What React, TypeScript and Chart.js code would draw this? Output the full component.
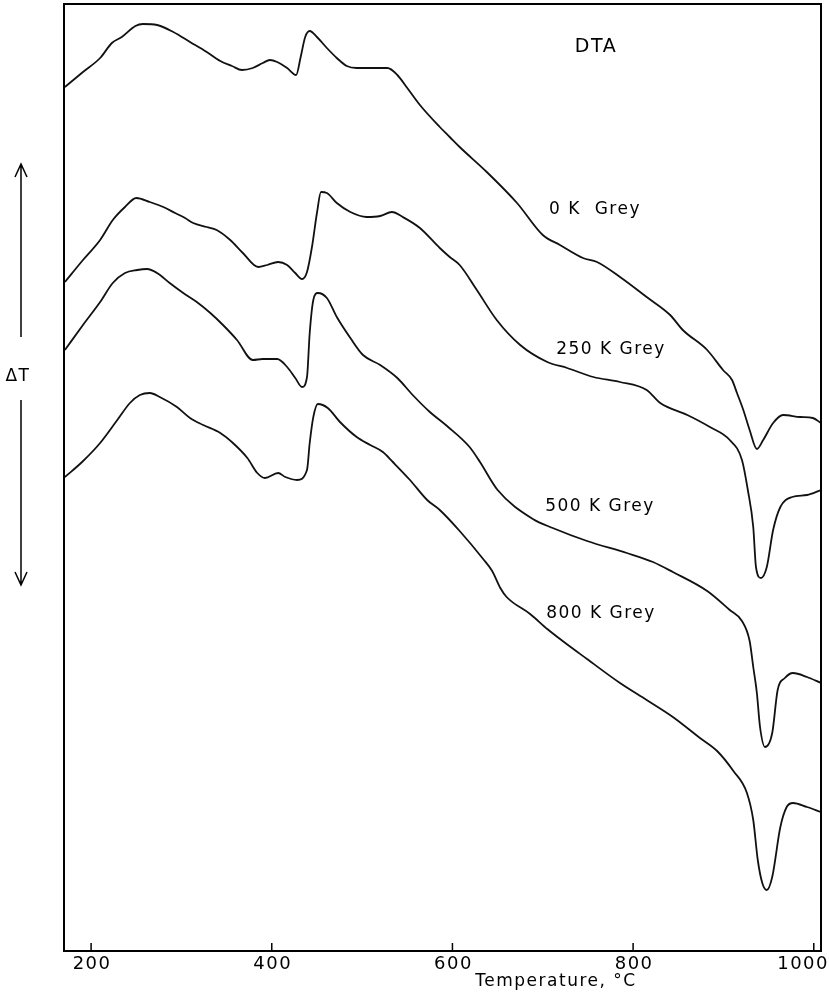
import React, { useEffect, useRef } from "react";
import { Chart, registerables } from "chart.js";

Chart.register(...registerables);

// Temperature axis (°C)
const tempTicks = [200, 400, 600, 800, 1000];

// Curve 1 (top, "0 K Grey")
const temp0K = [171, 191, 210, 223, 234, 249, 257.5, 273, 291, 309.5, 328, 343, 356, 367, 379, 390, 398, 406, 417, 427, 432, 437, 442, 450, 461, 472, 483, 494, 509, 528, 539, 550, 564, 586, 597, 608, 638, 671.5, 700, 719, 744.5, 760, 785.5, 815, 841, 855, 882, 899.5, 909.5, 915, 922, 929, 937, 944, 955, 966, 985, 999, 1008];
const dta0K = [86.4, 87.9, 89.3, 90.8, 91.4, 92.5, 92.7, 92.6, 91.9, 90.9, 89.9, 89.0, 88.5, 88.1, 88.3, 88.8, 89.1, 88.9, 88.3, 87.6, 89.4, 91.4, 92.0, 91.4, 90.3, 89.3, 88.5, 88.3, 88.3, 88.3, 87.6, 86.3, 84.6, 82.4, 81.4, 80.4, 77.9, 74.8, 71.6, 70.6, 69.3, 68.9, 67.4, 65.4, 63.6, 62.1, 60.1, 58.1, 57.1, 55.8, 54.1, 52.1, 50.2, 51.1, 52.8, 53.6, 53.4, 53.3, 52.8];

// Curve 2 ("250 K Grey")
const temp250K = [171, 191, 210, 224, 237.5, 250, 265, 280, 293, 304, 313, 328, 339, 354, 368, 385, 395, 407, 417, 426, 433.5, 439, 444.5, 450, 454.5, 461, 472, 487, 505, 520, 533, 545, 564, 586, 597, 608, 627, 649, 675, 705, 727, 756, 785.5, 815, 830, 860, 885, 907, 920.5, 927, 933, 936, 941.6, 948, 955, 963, 976, 992.5, 1008];
const dta250K = [66.9, 69.1, 71.1, 73.1, 74.4, 75.3, 74.9, 74.4, 73.8, 73.3, 72.8, 72.4, 72.1, 71.1, 69.8, 68.4, 68.6, 68.9, 68.6, 67.8, 67.2, 67.9, 70.4, 73.8, 75.9, 75.8, 74.8, 73.9, 73.4, 73.5, 73.9, 73.4, 72.3, 70.3, 69.4, 68.6, 66.1, 63.1, 60.6, 58.9, 58.3, 57.4, 56.9, 56.1, 54.8, 53.6, 52.4, 51.1, 49.1, 46.1, 42.4, 38.4, 37.3, 38.4, 42.1, 44.4, 45.4, 45.6, 46.1];

// Curve 3 ("500 K Grey")
const temp500K = [171, 191, 210, 224, 237.5, 251, 262, 273, 287, 302, 317, 332, 346, 361.5, 379, 390, 406, 417, 426, 433.5, 439, 442, 446, 451, 461, 472, 487, 501, 520, 539, 556, 575, 594, 619, 630.5, 650, 689, 711, 749, 793, 822, 844, 882, 907, 920.5, 929, 933, 937, 940.5, 946, 954, 960, 968, 977, 992.5, 1008];
const dta500K = [60.1, 62.6, 64.9, 66.8, 67.8, 68.1, 68.2, 67.8, 66.8, 65.8, 64.9, 63.8, 62.6, 61.1, 59.1, 59.2, 59.2, 58.4, 57.3, 56.4, 57.4, 61.8, 65.1, 65.8, 65.3, 63.4, 61.3, 59.6, 58.6, 57.3, 55.6, 53.9, 52.5, 50.4, 48.9, 46.1, 43.2, 42.3, 41.0, 39.8, 38.9, 37.9, 36.0, 34.1, 33.0, 31.0, 28.4, 25.8, 22.4, 20.4, 21.8, 26.1, 27.3, 27.8, 27.4, 26.8];

// Curve 4 ("800 K Grey")
const temp800K = [171, 190, 210, 229, 243, 254, 265, 276, 295, 309.5, 324, 343, 357, 373, 384, 392.5, 407, 415, 428, 439, 442, 446, 451, 462, 475.5, 494, 509, 523, 534, 553, 572, 586, 608, 634, 644, 653, 660, 686, 705, 722, 749, 785.5, 815, 844, 874, 893, 911, 926, 933, 938, 943, 948, 954, 963, 970, 977, 992.5, 1008];
const dta800K = [47.4, 48.9, 50.8, 53.1, 54.8, 55.6, 55.8, 55.4, 54.4, 53.3, 52.6, 51.8, 50.8, 49.3, 47.8, 47.3, 47.8, 47.4, 47.1, 48.1, 50.8, 53.4, 54.7, 54.3, 52.9, 51.4, 50.6, 49.9, 48.9, 47.1, 45.1, 44.1, 42.0, 39.2, 38.0, 36.3, 35.4, 33.7, 32.2, 31.0, 29.2, 26.8, 25.1, 23.4, 21.3, 20.0, 18.0, 15.8, 13.1, 9.1, 6.8, 6.1, 7.4, 12.4, 14.4, 14.8, 14.4, 13.9];

const seriesNames = ["0 K  Grey", "250 K Grey", "500 K Grey", "800 K Grey"];
const seriesTemps = [temp0K, temp250K, temp500K, temp800K];
const seriesValues = [dta0K, dta250K, dta500K, dta800K];

const FONT = "'DejaVu Sans', sans-serif";

const decorPlugin = {
  id: "decor",
  afterDraw(chart: any) {
    const { ctx, chartArea: a, scales, width } = chart;
    const x = scales.x;
    ctx.save();
    ctx.strokeStyle = "#000";
    ctx.lineWidth = 2;
    ctx.strokeRect(a.left, a.top, a.right - a.left, a.bottom - a.top);
    // inward tick marks and their labels, placed by the x scale
    ctx.lineWidth = 1.5;
    ctx.fillStyle = "#000";
    (ctx as any).letterSpacing = "1.5px";
    ctx.textBaseline = "middle";
    ctx.font = `18px ${FONT}`;
    x.ticks.forEach((t: any) => {
      const px = x.getPixelForValue(t.value);
      ctx.beginPath();
      ctx.moveTo(px, a.bottom);
      ctx.lineTo(px, a.bottom - 8);
      ctx.stroke();
      const label = String(t.value);
      const w = ctx.measureText(label).width;
      if (px + w / 2 > width - 1) {
        ctx.textAlign = "right";
        ctx.fillText(label, width, 964);
      } else {
        ctx.textAlign = "center";
        ctx.fillText(label, px + 1, 964);
      }
    });
    ctx.textAlign = "center";
    // axis title
    ctx.font = `17px ${FONT}`;
    ctx.fillText("Temperature, °C", 556, 982);
    // DTA
    ctx.font = `19px ${FONT}`;
    ctx.fillText("DTA", 596, 47);
    // curve labels
    ctx.font = `17px ${FONT}`;
    const labelPos = [
      [595, 210],
      [611, 350],
      [600, 507],
      [601, 614],
    ];
    seriesNames.forEach((n, i) => ctx.fillText(n, labelPos[i][0], labelPos[i][1]));
    // Delta T with arrows
    ctx.fillText("ΔT", 18, 377);
    ctx.lineWidth = 1.5;
    const arrow = (x0: number, yTail: number, yTip: number) => {
      const dir = yTip < yTail ? 1 : -1;
      ctx.beginPath();
      ctx.moveTo(x0, yTail);
      ctx.lineTo(x0, yTip);
      ctx.moveTo(x0 - 6, yTip + dir * 13);
      ctx.lineTo(x0, yTip);
      ctx.lineTo(x0 + 6, yTip + dir * 13);
      ctx.stroke();
    };
    arrow(21, 337, 164);
    arrow(21, 400, 585);
    ctx.restore();
  },
};

export default function App() {
  const ref = useRef<HTMLCanvasElement | null>(null);
  useEffect(() => {
    if (!ref.current) return;
    const chart = new Chart(ref.current, {
      type: "line",
      data: {
        datasets: seriesNames.map((name, i) => ({
          label: name,
          data: seriesTemps[i].map((t, j) => ({ x: t, y: seriesValues[i][j] })),
          borderColor: "#111",
          borderWidth: 1.8,
          pointRadius: 0,
          fill: false,
          cubicInterpolationMode: "monotone" as const,
        })),
      },
      options: {
        animation: false,
        responsive: false,
        events: [],
        layout: { padding: { top: 4, right: 8, left: 0, bottom: 0 } },
        plugins: { legend: { display: false }, tooltip: { enabled: false } },
        scales: {
          x: {
            type: "linear",
            min: 170,
            max: 1008,
            afterBuildTicks: (s: any) => {
              s.ticks = tempTicks.map((v) => ({ value: v }));
            },
            afterFit: (s: any) => {
              s.height = 43;
              s.paddingLeft = 0;
              s.paddingRight = 0;
            },
            ticks: { display: false },
            grid: { display: false, drawTicks: false },
            border: { display: false },
          },
          y: {
            type: "linear",
            min: 0,
            max: 94.7,
            afterFit: (s: any) => {
              s.width = 64;
            },
            ticks: { display: false },
            grid: { display: false, drawTicks: false },
            border: { display: false },
          },
        },
      },
      plugins: [decorPlugin],
    });
    return () => chart.destroy();
  }, []);
  return (
    <div style={{ position: "fixed", left: 0, top: 0, width: 829, height: 994, background: "#fff" }}>
      <canvas ref={ref} width={829} height={994} style={{ width: 829, height: 994, display: "block" }} />
    </div>
  );
}
